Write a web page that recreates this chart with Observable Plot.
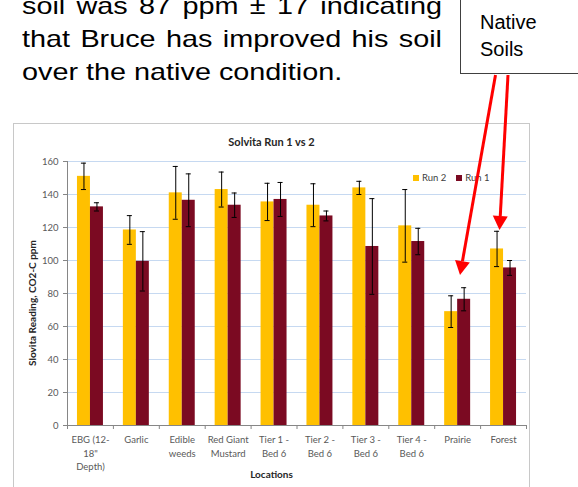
<!DOCTYPE html>
<html>
<head>
<meta charset="utf-8">
<script src="https://cdn.jsdelivr.net/npm/d3@7"></script>
<script src="https://cdn.jsdelivr.net/npm/@observablehq/plot@0.6"></script>
<style>
  html, body { margin: 0; padding: 0; background: #fff; }
  #page { position: relative; width: 578px; height: 487px; overflow: hidden; background: #fff; }
  #para { position: absolute; left: 22px; top: -11px; width: 350px; font-family: "Liberation Sans", Arial, sans-serif; font-size: 24px; line-height: 33px; color: #000; transform: scaleX(1.2); transform-origin: 0 0; }
  #para .j { text-align: justify; text-align-last: justify; white-space: nowrap; }
  #native { position: absolute; left: 460px; top: -10px; width: 140px; height: 84px; border: 1.5px solid #404040; box-sizing: border-box; background: #fff; }
  #native div { position: absolute; left: 19px; top: 18px; font-family: "Liberation Sans", Arial, sans-serif; font-size: 20px; line-height: 27px; color: #000; }
  #box { position: absolute; left: 13px; top: 123px; width: 517px; height: 400px; border: 1px solid #c8c8c8; box-sizing: border-box; }
  #plot { position: absolute; left: 14px; top: 124px; }
  .lbl { position: absolute; font-family: Lato, "Open Sans", sans-serif; color: #262626; white-space: nowrap; }
  #title { left: 13px; width: 517px; top: 135px; text-align: center; font-weight: bold; font-size: 11px; }
  #xlabel { left: 13px; width: 517px; top: 468px; text-align: center; font-weight: bold; font-size: 10px; }
  #ylabel { left: 32px; top: 303px; font-weight: bold; font-size: 10px; transform: translate(-50%, -50%) rotate(-90deg); }
  #legend { left: 413px; top: 172px; font-size: 9.5px; color: #404040; display: flex; align-items: center; }
  #legend .sw { display: inline-block; width: 6px; height: 6px; margin-right: 3px; }
  #legend .it { display: flex; align-items: center; margin-right: 10px; }
  #arrows { position: absolute; left: 0; top: 0; pointer-events: none; }
</style>
</head>
<body>
<div id="page">
  <div id="para">
    <div class="j">soil was 87 ppm ± 17 indicating</div>
    <div class="j">that Bruce has improved his soil</div>
    <div>over the native condition.</div>
  </div>
  <div id="native"><div>Native<br>Soils</div></div>
  <div id="box"></div>
  <div id="plot"></div>
  <div class="lbl" id="title">Solvita Run 1 vs 2</div>
  <div class="lbl" id="xlabel">Locations</div>
  <div class="lbl" id="ylabel">Slovita Reading, CO2-C ppm</div>
  <div class="lbl" id="legend"></div>
  <svg id="arrows" width="578" height="487"></svg>
</div>
<script>
// ---- data ----
const categories = ["EBG (12-18\" Depth)", "Garlic", "Edible weeds", "Red Giant Mustard", "Tier 1 - Bed 6", "Tier 2 - Bed 6", "Tier 3 - Bed 6", "Tier 4 - Bed 6", "Prairie", "Forest"];
const categoryLabels = ["EBG (12-\n18\"\nDepth)", "Garlic", "Edible\nweeds", "Red Giant\nMustard", "Tier 1 -\nBed 6", "Tier 2 -\nBed 6", "Tier 3 -\nBed 6", "Tier 4 -\nBed 6", "Prairie", "Forest"];
const seriesNames = ["Run 2", "Run 1"];
const run2 = [151, 118.5, 141, 143, 135.5, 133.5, 144, 121, 69, 107];
const run2Err = [8, 8.7, 16, 10.6, 11.3, 13, 4, 22, 9.6, 10.7];
const run1 = [132.5, 99.5, 136.5, 133.5, 137, 127, 108.5, 111.5, 76.5, 95.5];
const run1Err = [2.5, 18, 16, 7.4, 10.3, 3, 29, 8, 7, 4.5];
const yTicks = [0, 20, 40, 60, 80, 100, 120, 140, 160];

const colors = ["#FFC000", "#7B0A22"];
const idx = d3.range(categories.length);
const bw = 0.283;   // bar width as fraction of category band
const cap = 0.055;  // error cap half width
const series = [
  {vals: run2, errs: run2Err, off: -bw, color: colors[0]},
  {vals: run1, errs: run1Err, off: 0, color: colors[1]}
];

const marks = [
  Plot.gridY(yTicks.filter(d => d > 0), {stroke: "#c6d9f1", strokeOpacity: 1}),
];
for (const s of series) {
  marks.push(
    Plot.rect(idx, {x1: i => i + 0.5 + s.off, x2: i => i + 0.5 + s.off + bw, y1: () => 0, y2: i => s.vals[i], fill: s.color})
  );
}
for (const s of series) {
  const c = i => i + 0.5 + s.off + bw / 2;
  marks.push(
    Plot.ruleX(idx, {x: c, y1: i => s.vals[i] - s.errs[i], y2: i => s.vals[i] + s.errs[i], stroke: "#000", strokeWidth: 1}),
    Plot.ruleY(idx, {y: i => s.vals[i] + s.errs[i], x1: i => c(i) - cap, x2: i => c(i) + cap, stroke: "#000", strokeWidth: 1}),
    Plot.ruleY(idx, {y: i => s.vals[i] - s.errs[i], x1: i => c(i) - cap, x2: i => c(i) + cap, stroke: "#000", strokeWidth: 1})
  );
}
marks.push(
  Plot.ruleX([0], {stroke: "#868686"}),
  Plot.ruleY([0], {stroke: "#868686"}),
  Plot.axisY({ticks: yTicks, tickSize: 4, tickPadding: 5, stroke: "#868686", fill: "#595959", fontSize: 9.5, fontFamily: "Lato", label: null}),
  Plot.axisX({ticks: d3.range(0, categories.length + 1), tickSize: 4, tickFormat: () => "", stroke: "#868686", label: null}),
  Plot.text(categoryLabels, {x: (d, i) => i + 0.5, frameAnchor: "bottom", lineAnchor: "top", dy: 8, lineHeight: 1.42, fontSize: 9.5, fontFamily: "Lato", fill: "#595959"})
);

const chart = Plot.plot({
  width: 515,
  height: 363,
  marginLeft: 53,
  marginRight: 3,
  marginTop: 37,
  marginBottom: 62,
  x: {type: "linear", domain: [0, categories.length], axis: null},
  y: {domain: [0, 160], axis: null},
  style: {background: "transparent", fontFamily: "Lato"},
  marks
});
document.getElementById("plot").append(chart);

// legend
const legend = document.getElementById("legend");
seriesNames.forEach((n, k) => {
  const it = document.createElement("span");
  it.className = "it";
  it.innerHTML = `<span class="sw" style="background:${colors[k]}"></span>${n}`;
  legend.append(it);
});

// annotation arrows (overlay)
const svg = d3.select("#arrows");
function arrow(x0, y0, x1, y1) {
  const ang = Math.atan2(y1 - y0, x1 - x0), L = 14, W = 7.5;
  const bx = x1 - L * Math.cos(ang), by = y1 - L * Math.sin(ang);
  svg.append("line").attr("x1", x0).attr("y1", y0).attr("x2", bx).attr("y2", by)
    .attr("stroke", "#ff0000").attr("stroke-width", 3);
  const px = -Math.sin(ang) * W, py = Math.cos(ang) * W;
  svg.append("polygon").attr("points", `${x1},${y1} ${bx + px},${by + py} ${bx - px},${by - py}`).attr("fill", "#ff0000");
}
arrow(495.5, 75, 460, 275);
arrow(508, 75, 499.5, 230);
</script>
</body>
</html>
